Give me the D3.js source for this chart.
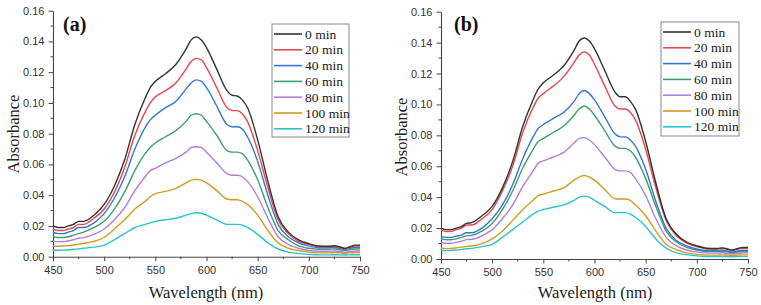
<!DOCTYPE html>
<html>
<head>
<meta charset="utf-8">
<script src="https://cdn.jsdelivr.net/npm/d3@7"></script>
<style>
  body { margin: 0; background: #fff; }
  svg { display: block; }
  .serif { font-family: "Liberation Serif", "Times New Roman", Tinos, serif; }
  .sans { font-family: "Liberation Sans", Arial, Arimo, sans-serif; }
</style>
</head>
<body>
<svg id="chart" width="761" height="305"></svg>
<script>
// ---------------- DATA ----------------
const wavelengths = [450,455,460,465,470,475,480,490,500,510,520,530,540,545,550,560,570,580,585,590,595,600,610,620,625,630,635,640,650,660,670,680,690,700,710,720,725,730,735,740,745,750];
const seriesNames = ["0 min","20 min","40 min","60 min","80 min","100 min","120 min"];
const seriesColors = ["#333333","#e8474a","#3575d4","#3e9e6e","#b07fdd","#d39b22","#2bc3cb"];
const xTicks = [450,500,550,600,650,700,750];
const yTicks = [0,0.02,0.04,0.06,0.08,0.10,0.12,0.14,0.16];

// Panel (a)
const a0   = [.020,.019,.019,.020,.021,.023,.023,.027,.034,.046,.063,.086,.103,.110,.114,.119,.125,.135,.141,.143,.141,.136,.122,.108,.105,.1045,.102,.097,.076,.049,.026,.016,.011,.0085,.007,.0068,.0072,.0065,.0055,.0065,.0075,.0075];
const a20  = [.018,.017,.017,.018,.019,.021,.021,.025,.031,.042,.058,.079,.094,.100,.104,.108,.113,.122,.127,.129,.128,.123,.110,.097,.095,.095,.093,.088,.069,.045,.024,.015,.010,.008,.0065,.0065,.0068,.006,.005,.006,.007,.007];
const a40  = [.016,.015,.015,.016,.017,.019,.019,.022,.028,.038,.052,.070,.084,.089,.092,.097,.101,.109,.113,.115,.114,.110,.098,.086,.0845,.0845,.083,.078,.062,.040,.021,.013,.009,.007,.0058,.0058,.006,.0055,.0048,.0055,.006,.006];
const a60  = [.013,.0125,.0125,.013,.014,.015,.016,.019,.023,.031,.042,.056,.067,.071,.074,.078,.082,.088,.092,.093,.092,.088,.079,.069,.068,.068,.067,.063,.050,.032,.017,.011,.007,.0055,.0048,.0048,.005,.0045,.004,.0045,.005,.005];
const a80  = [.010,.0098,.0098,.0102,.011,.012,.0124,.0145,.018,.024,.032,.043,.052,.056,.0575,.061,.064,.068,.071,.0715,.071,.068,.061,.054,.053,.053,.052,.049,.039,.025,.013,.008,.0055,.004,.0035,.0035,.0037,.0033,.003,.0033,.0037,.0037];
const a100 = [.007,.0068,.007,.0072,.0076,.0082,.0087,.010,.0125,.018,.024,.031,.036,.039,.041,.0425,.0445,.048,.0498,.0503,.0498,.048,.043,.0375,.037,.037,.036,.034,.027,.017,.009,.0055,.004,.003,.0025,.0025,.0027,.0025,.0022,.0025,.0027,.0027];
const a120 = [.0042,.0042,.0043,.0045,.0048,.0051,.0055,.0062,.0075,.011,.015,.019,.021,.022,.023,.024,.025,.027,.028,.0286,.0283,.027,.024,.021,.021,.021,.0205,.019,.0145,.009,.005,.003,.002,.0015,.0012,.0012,.0013,.0012,.0011,.0012,.0013,.0013];

// Panel (b)
const b0   = [.020,.019,.019,.020,.021,.023,.0235,.028,.034,.046,.063,.086,.103,.110,.114,.119,.125,.135,.141,.143,.141,.136,.122,.108,.105,.105,.102,.097,.076,.049,.026,.016,.011,.0085,.007,.0068,.0072,.0065,.0058,.0068,.0075,.0075];
const b20  = [.0185,.0178,.0178,.019,.020,.022,.022,.026,.032,.044,.060,.082,.098,.104,.107,.112,.118,.127,.132,.134,.132,.126,.112,.099,.097,.097,.095,.090,.071,.046,.025,.015,.0105,.008,.0065,.0065,.007,.0062,.0055,.0065,.007,.007];
const b40  = [.0145,.014,.014,.0148,.0155,.017,.017,.020,.026,.035,.048,.065,.079,.0845,.087,.091,.095,.102,.107,.109,.107,.103,.092,.081,.079,.079,.077,.073,.058,.037,.020,.012,.0085,.0065,.0055,.0055,.0058,.0052,.0045,.0052,.0057,.0057];
const b60  = [.013,.0125,.0125,.013,.014,.015,.0153,.018,.023,.032,.044,.059,.071,.076,.078,.082,.086,.093,.097,.099,.097,.093,.083,.073,.0716,.0716,.070,.066,.052,.034,.018,.011,.0075,.0058,.0048,.0048,.005,.0046,.004,.0046,.005,.005];
const b80  = [.0105,.0102,.0102,.0108,.0115,.0125,.0127,.015,.019,.026,.035,.047,.057,.062,.0635,.066,.069,.075,.078,.0785,.077,.074,.066,.058,.057,.057,.056,.052,.041,.026,.014,.0085,.0058,.0045,.0038,.0038,.004,.0036,.0032,.0036,.004,.004];
const b100 = [.007,.0067,.0068,.0072,.0077,.0082,.0084,.010,.013,.018,.025,.032,.038,.041,.042,.044,.046,.051,.053,.054,.053,.051,.045,.039,.0388,.0388,.038,.035,.028,.018,.0095,.006,.004,.003,.0025,.0025,.0027,.0025,.0022,.0025,.0027,.0027];
const b120 = [.0055,.0054,.0055,.0058,.0062,.0066,.0069,.008,.0095,.014,.019,.024,.029,.031,.032,.0335,.035,.038,.040,.0407,.040,.038,.034,.030,.030,.030,.029,.027,.021,.013,.007,.004,.0028,.002,.0016,.0016,.0017,.0016,.0015,.0016,.0017,.0017];

const panelA = [a0,a20,a40,a60,a80,a100,a120];
const panelB = [b0,b20,b40,b60,b80,b100,b120];

// ---------------- DRAW ----------------
const svg = d3.select("#chart");

function drawPanel(cfg) {
  const g = svg.append("g");
  const x = d3.scaleLinear().domain([450,750]).range([cfg.x0, cfg.x1]);
  const y = d3.scaleLinear().domain([0,0.16]).range([cfg.y0, cfg.y1]);

  // minor ticks
  const xMinor = d3.range(475, 750, 50);
  const yMinor = d3.range(0.01, 0.16, 0.02);
  g.selectAll(".xminor").data(xMinor).enter().append("line")
    .attr("x1", d => x(d)).attr("x2", d => x(d))
    .attr("y1", cfg.y0).attr("y2", cfg.y0 + 2.5)
    .attr("stroke", "#444").attr("stroke-width", 1);
  g.selectAll(".yminor").data(yMinor).enter().append("line")
    .attr("x1", cfg.x0).attr("x2", cfg.x0 - 2.5)
    .attr("y1", d => y(d)).attr("y2", d => y(d))
    .attr("stroke", "#444").attr("stroke-width", 1);

  const xAxis = d3.axisBottom(x).tickValues(xTicks).tickSize(4.5).tickSizeOuter(0).tickFormat(d3.format("d"));
  const yAxis = d3.axisLeft(y).tickValues(yTicks).tickSize(4.5).tickSizeOuter(0).tickFormat(d3.format(".2f"));

  const gx = g.append("g").attr("transform", `translate(0,${cfg.y0})`).call(xAxis);
  const gy = g.append("g").attr("transform", `translate(${cfg.x0},0)`).call(yAxis);
  [gx, gy].forEach(ax => {
    ax.attr("font-family", null).attr("font-size", null);
    ax.select(".domain").attr("stroke", "#444").attr("stroke-width", 1.1);
    ax.selectAll(".tick line").attr("stroke", "#444").attr("stroke-width", 1);
    ax.selectAll(".tick text").attr("class", "sans").style("font-size", "11px").attr("fill", "#333");
  });
  gx.selectAll(".tick text").attr("dy", "0.9em");
  gy.selectAll(".tick text").attr("dx", "-0.1em");

  // lines
  const line = d3.line().x((d, i) => x(wavelengths[i])).y(d => y(d)).curve(d3.curveMonotoneX);
  cfg.data.slice().reverse().forEach((s, ri) => {
    const i = cfg.data.length - 1 - ri;
    g.append("path").datum(s).attr("d", line)
      .attr("fill", "none").attr("stroke", seriesColors[i]).attr("stroke-width", 1.4);
  });

  // axis titles
  g.append("text").attr("class", "serif").attr("x", cfg.xTitleX).attr("y", 298).attr("text-anchor", "middle")
    .style("font-size", "16.5px").attr("fill", "#222")
    .text("Wavelength (nm)");
  g.append("text").attr("class", "serif").attr("transform", `translate(${cfg.yTitleX},${cfg.yTitleY}) rotate(-90)`)
    .attr("text-anchor", "middle").style("font-size", "16.5px").attr("fill", "#222")
    .text("Absorbance");

  // panel label
  g.append("text").attr("class", "serif").attr("x", cfg.labelX).attr("y", 31)
    .style("font-size", "20px").style("font-weight", "bold").attr("fill", "#111")
    .text(cfg.label);

  // legend
  const lg = g.append("g");
  lg.append("rect").attr("x", cfg.legX).attr("y", cfg.legY).attr("width", cfg.legW).attr("height", cfg.legH)
    .attr("fill", "#fff").attr("stroke", "#888").attr("stroke-width", 1);
  seriesNames.forEach((n, i) => {
    const yy = cfg.legY + 10 + i * 15.8;
    lg.append("line").attr("x1", cfg.legX + 2).attr("x2", cfg.legX + 30)
      .attr("y1", yy).attr("y2", yy).attr("stroke", seriesColors[i]).attr("stroke-width", 1.6);
    lg.append("text").attr("class", "serif").attr("x", cfg.legX + 33).attr("y", yy + 4.5)
      .style("font-size", "13.5px").attr("fill", "#222").text(n);
  });
}

drawPanel({x0: 53, x1: 360, y0: 256.7, y1: 10.7, data: panelA, label: "(a)", labelX: 63,
  xTitleX: 206, yTitleX: 19, yTitleY: 134, legX: 272, legY: 24, legW: 77, legH: 113});
drawPanel({x0: 441, x1: 748, y0: 259, y1: 11.7, data: panelB, label: "(b)", labelX: 454,
  xTitleX: 595, yTitleX: 407, yTitleY: 137, legX: 661, legY: 22, legW: 78, legH: 114});
</script>
</body>
</html>
